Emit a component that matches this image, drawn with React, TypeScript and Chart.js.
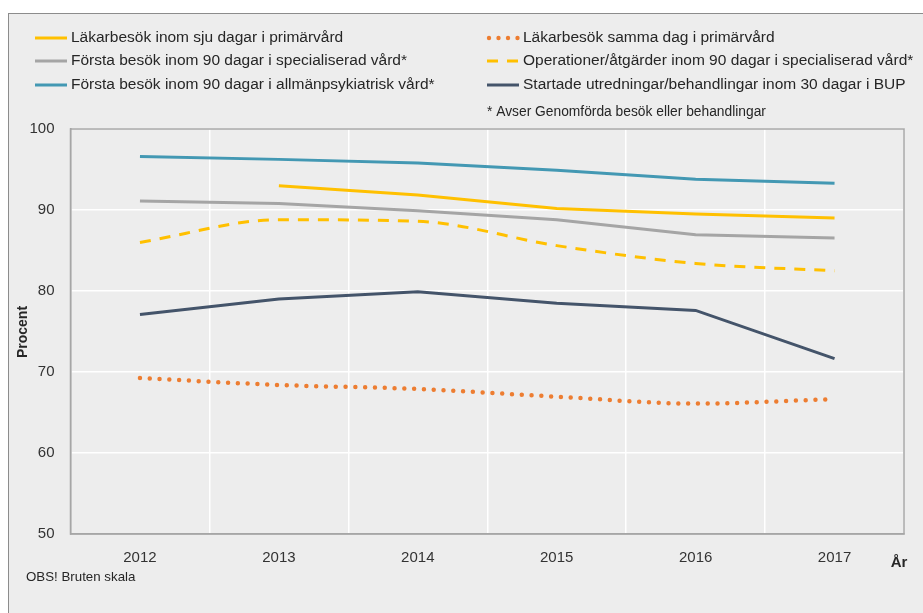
import React, { useEffect, useRef } from "react";
import { Chart, registerables } from "chart.js";

Chart.register(...registerables);

const years = ["2012", "2013", "2014", "2015", "2016", "2017"];
const lakarSjuDagar = [null, 93.0, 91.85, 90.2, 89.5, 89.0];
const lakarSammaDag = [69.25, 68.4, 67.9, 66.95, 66.1, 66.65];
const forstaSpec = [91.1, 90.8, 89.9, 88.8, 86.95, 86.55];
const operationer = [86.0, 88.8, 88.6, 85.6, 83.4, 82.5];
const forstaPsyk = [96.6, 96.25, 95.8, 94.9, 93.8, 93.3];
const bup = [77.1, 79.0, 79.9, 78.5, 77.6, 71.65];

const labelsLeft = [
  "Läkarbesök inom sju dagar i primärvård",
  "Första besök inom 90 dagar i specialiserad vård*",
  "Första besök inom 90 dagar i allmänpsykiatrisk vård*",
];
const labelsRight = [
  "Läkarbesök samma dag i primärvård",
  "Operationer/åtgärder inom 90 dagar i specialiserad vård*",
  "Startade utredningar/behandlingar inom 30 dagar i BUP",
];
const footnote = "* Avser Genomförda besök eller behandlingar";
const noteText = "OBS! Bruten skala";
const yTitle = "Procent";
const xTitle = "År";

const YELLOW = "#FFC000";
const ORANGE = "#ED7D31";
const GREY = "#A5A5A5";
const BLUE = "#4398B3";
const NAVY = "#44546A";
const FONT = "'Liberation Sans', Arial, sans-serif";
const TEXT = "#262626";

const extrasPlugin = {
  id: "extras",
  afterDraw(chart: any) {
    const ctx = chart.ctx;
    const a = chart.chartArea;
    ctx.save();
    ctx.strokeStyle = "#a6a6a6";
    ctx.lineWidth = 1.5;
    ctx.strokeRect(a.left, a.top, a.right - a.left, a.bottom - a.top);

    const rows = [24, 47, 71];
    const drawSample = (x: number, y: number, type: string, color: string) => {
      ctx.save();
      ctx.strokeStyle = color;
      ctx.fillStyle = color;
      if (type === "dot") {
        for (let i = 0; i < 4; i++) {
          ctx.beginPath();
          ctx.arc(x + 2 + i * 9.5, y, 2.2, 0, Math.PI * 2);
          ctx.fill();
        }
      } else {
        ctx.lineWidth = 3;
        ctx.setLineDash(type === "dash" ? [11, 9] : []);
        ctx.beginPath();
        ctx.moveTo(x, y);
        ctx.lineTo(x + 32, y);
        ctx.stroke();
      }
      ctx.restore();
    };
    ctx.font = `15.5px ${FONT}`;
    ctx.fillStyle = TEXT;
    ctx.textBaseline = "middle";
    ctx.textAlign = "left";
    const leftTypes = [["solid", YELLOW], ["solid", GREY], ["solid", BLUE]];
    const rightTypes = [["dot", ORANGE], ["dash", YELLOW], ["solid", NAVY]];
    rows.forEach((y, i) => {
      drawSample(26, y, leftTypes[i][0], leftTypes[i][1]);
      ctx.fillStyle = TEXT;
      ctx.fillText(labelsLeft[i], 62, y);
      drawSample(478, y, rightTypes[i][0], rightTypes[i][1]);
      ctx.fillStyle = TEXT;
      ctx.fillText(labelsRight[i], 514, y);
    });
    ctx.font = `13.8px ${FONT}`;
    ctx.fillText(footnote, 478, 98);
    ctx.font = `13.3px ${FONT}`;
    ctx.fillText(noteText, 17, 563);

    ctx.font = `bold 15px ${FONT}`;
    ctx.textAlign = "center";
    ctx.fillText(xTitle, 890, 549);
    ctx.save();
    ctx.translate(14, 318);
    ctx.rotate(-Math.PI / 2);
    ctx.font = `bold 14px ${FONT}`;
    ctx.fillText(yTitle, 0, 0);
    ctx.restore();
    ctx.restore();
  },
};

export default function App() {
  const ref = useRef<HTMLCanvasElement>(null);
  useEffect(() => {
    if (!ref.current) return;
    const common = { pointRadius: 0, pointHoverRadius: 0, borderWidth: 3, fill: false };
    const chart = new Chart(ref.current, {
      type: "line",
      data: {
        labels: years,
        datasets: [
          { ...common, label: labelsLeft[0], data: lakarSjuDagar, borderColor: YELLOW, tension: 0 },
          { ...common, label: labelsRight[0], data: lakarSammaDag, borderColor: ORANGE, borderWidth: 4.5, borderDash: [0, 9.8], borderCapStyle: "round", cubicInterpolationMode: "monotone" },
          { ...common, label: labelsLeft[1], data: forstaSpec, borderColor: GREY, tension: 0 },
          { ...common, label: labelsRight[1], data: operationer, borderColor: YELLOW, borderDash: [11, 9], cubicInterpolationMode: "monotone" },
          { ...common, label: labelsLeft[2], data: forstaPsyk, borderColor: BLUE, tension: 0 },
          { ...common, label: labelsRight[2], data: bup, borderColor: NAVY, tension: 0 },
        ],
      },
      options: {
        responsive: false,
        animation: false,
        spanGaps: false,
        layout: { padding: { left: 0, top: 115, right: 19, bottom: 39 } },
        plugins: { legend: { display: false }, tooltip: { enabled: false }, title: { display: false } },
        scales: {
          x: {
            offset: true,
            grid: { offset: true, color: "#ffffff", lineWidth: 1.5, drawTicks: false },
            border: { display: true, color: "#a6a6a6", width: 1.5 },
            ticks: { padding: 15, color: "#333333", font: { family: FONT, size: 15 } },
            afterFit(scale: any) { scale.height = 40; },
          },
          y: {
            min: 50,
            max: 100,
            ticks: { stepSize: 10, padding: 16, color: "#333333", font: { family: FONT, size: 15 } },
            grid: { color: "#ffffff", lineWidth: 1.5, drawTicks: false },
            border: { display: true, color: "#a6a6a6", width: 1.5 },
            afterFit(scale: any) { scale.width = 61.5; },
          },
        },
      },
      plugins: [extrasPlugin],
    });
    return () => chart.destroy();
  }, []);
  return (
    <div
      style={{
        position: "absolute",
        left: 8,
        top: 13,
        width: 915,
        height: 600,
        boxSizing: "border-box",
        borderTop: "1px solid #8c8c8c",
        borderLeft: "1px solid #8c8c8c",
        background: "#ededed",
        overflow: "hidden",
      }}
    >
      <canvas ref={ref} width={914} height={599} style={{ display: "block" }} />
    </div>
  );
}
